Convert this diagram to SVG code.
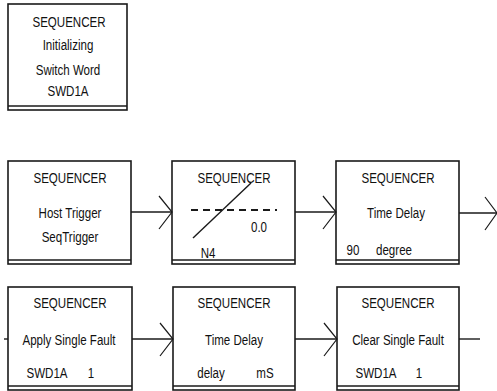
<svg xmlns="http://www.w3.org/2000/svg" width="497" height="391" viewBox="0 0 497 391">
  <style>
    .box { fill: #fff; stroke: #1a1a1a; stroke-width: 1.6; }
    .sep { stroke: #1a1a1a; stroke-width: 1.4; }
    .lbl { font-family: "Liberation Sans", Arial, sans-serif; font-size: 15px; fill: #111; text-anchor: middle; }
    .wire { stroke: #1a1a1a; stroke-width: 1.4; fill: none; }
    .head { stroke: #1a1a1a; stroke-width: 1.2; fill: none; }
    .dash { stroke: #1a1a1a; stroke-width: 2; stroke-dasharray: 7 5; fill: none; }
  </style>

  <!-- Initializing block -->
  <g id="seq-init">
    <rect class="box" x="8" y="4" width="119" height="106"/>
    <line class="sep" x1="8" y1="106" x2="127" y2="106"/>
    <text class="lbl" transform="translate(69 27) scale(0.77 1)">SEQUENCER</text>
    <text class="lbl" transform="translate(68 50) scale(0.77 1)">Initializing</text>
    <text class="lbl" transform="translate(68 75) scale(0.77 1)">Switch Word</text>
    <text class="lbl" transform="translate(68 96) scale(0.77 1)">SWD1A</text>
  </g>

  <!-- Row 1 -->
  <g id="seq-host-trigger">
    <rect class="box" x="8" y="161" width="123" height="103"/>
    <line class="sep" x1="8" y1="260" x2="131" y2="260"/>
    <text class="lbl" transform="translate(70 183) scale(0.77 1)">SEQUENCER</text>
    <text class="lbl" transform="translate(70 218) scale(0.77 1)">Host Trigger</text>
    <text class="lbl" transform="translate(70 242) scale(0.77 1)">SeqTrigger</text>
  </g>

  <g id="seq-threshold">
    <rect class="box" x="172" y="161" width="123" height="103"/>
    <line class="sep" x1="172" y1="260" x2="295" y2="260"/>
    <text class="lbl" transform="translate(234 183) scale(0.77 1)">SEQUENCER</text>
    <line class="wire" x1="193" y1="238" x2="251" y2="183"/>
    <line class="dash" x1="191" y1="210" x2="277" y2="210"/>
    <text class="lbl" transform="translate(259 232) scale(0.77 1)">0.0</text>
    <text class="lbl" transform="translate(208 258) scale(0.77 1)">N4</text>
  </g>

  <g id="seq-time-delay-deg">
    <rect class="box" x="336" y="161" width="123" height="103"/>
    <line class="sep" x1="336" y1="260" x2="459" y2="260"/>
    <text class="lbl" transform="translate(398 183) scale(0.77 1)">SEQUENCER</text>
    <text class="lbl" transform="translate(396 218) scale(0.77 1)">Time Delay</text>
    <text class="lbl" transform="translate(353 255) scale(0.77 1)">90</text>
    <text class="lbl" transform="translate(394 255) scale(0.77 1)">degree</text>
  </g>

  <!-- Row 2 -->
  <g id="seq-apply-fault">
    <rect class="box" x="8" y="287" width="124" height="103"/>
    <line class="sep" x1="8" y1="386" x2="132" y2="386"/>
    <text class="lbl" transform="translate(70 308) scale(0.77 1)">SEQUENCER</text>
    <text class="lbl" transform="translate(69 345) scale(0.77 1)">Apply Single Fault</text>
    <text class="lbl" transform="translate(47 378) scale(0.77 1)">SWD1A</text>
    <text class="lbl" transform="translate(91 378) scale(0.77 1)">1</text>
  </g>

  <g id="seq-time-delay-ms">
    <rect class="box" x="173" y="287" width="122" height="103"/>
    <line class="sep" x1="173" y1="386" x2="295" y2="386"/>
    <text class="lbl" transform="translate(234 308) scale(0.77 1)">SEQUENCER</text>
    <text class="lbl" transform="translate(234 345) scale(0.77 1)">Time Delay</text>
    <text class="lbl" transform="translate(211 378) scale(0.77 1)">delay</text>
    <text class="lbl" transform="translate(265 378) scale(0.77 1)">mS</text>
  </g>

  <g id="seq-clear-fault">
    <rect class="box" x="337" y="287" width="122" height="103"/>
    <line class="sep" x1="337" y1="386" x2="459" y2="386"/>
    <text class="lbl" transform="translate(398 308) scale(0.77 1)">SEQUENCER</text>
    <text class="lbl" transform="translate(398 345) scale(0.77 1)">Clear Single Fault</text>
    <text class="lbl" transform="translate(376 378) scale(0.77 1)">SWD1A</text>
    <text class="lbl" transform="translate(419 378) scale(0.77 1)">1</text>
  </g>

  <!-- Connectors -->
  <g id="connectors">
    <line class="wire" x1="131" y1="212" x2="172" y2="212"/>
    <polyline class="head" points="159,196 172,212 159,229"/>
    <line class="wire" x1="295" y1="212" x2="336" y2="212"/>
    <polyline class="head" points="323,196 336,212 323,229"/>
    <line class="wire" x1="459" y1="213" x2="497" y2="213"/>
    <polyline class="head" points="485,197 497,213 485,230"/>

    <line class="wire" x1="4" y1="339" x2="8" y2="339"/>
    <line class="wire" x1="132" y1="339" x2="173" y2="339"/>
    <polyline class="head" points="160,323 173,339 160,356"/>
    <line class="wire" x1="295" y1="339" x2="337" y2="339"/>
    <polyline class="head" points="324,323 337,339 324,356"/>
    <line class="wire" x1="459" y1="339" x2="480" y2="339"/>
  </g>
</svg>
